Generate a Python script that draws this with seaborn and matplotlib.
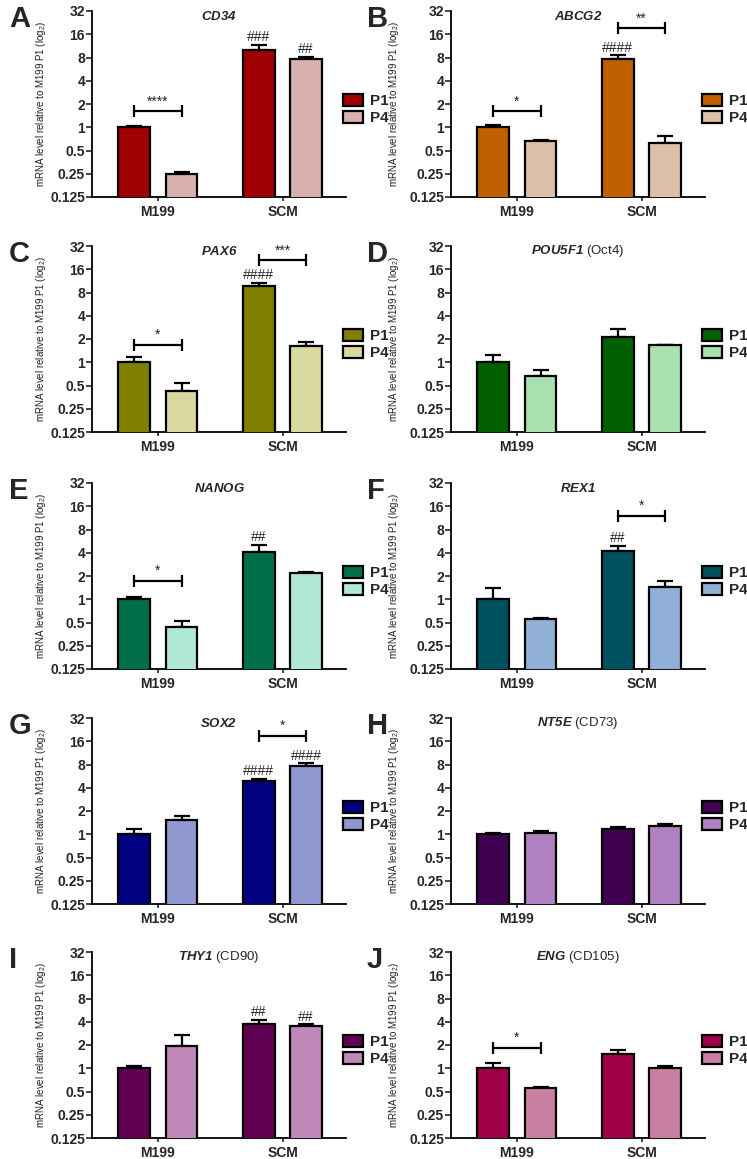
import numpy as np
import pandas as pd
import matplotlib
matplotlib.use("Agg")
import matplotlib.pyplot as plt
from matplotlib.patches import Patch
from matplotlib.ticker import NullLocator
import seaborn as sns

sns.set_style("ticks")
plt.rcParams['font.family'] = ['Liberation Sans', 'DejaVu Sans']
plt.rcParams['mathtext.fontset'] = 'custom'
plt.rcParams['mathtext.rm'] = 'Liberation Sans'
plt.rcParams['mathtext.it'] = 'Liberation Sans:italic'
plt.rcParams['mathtext.bf'] = 'Liberation Sans:bold'
# gene names in titles go through \mathsf so the digits are italic too
plt.rcParams['mathtext.sf'] = 'Liberation Sans:italic:bold'

# panels
letters = ["A", "B", "C", "D", "E", "F", "G", "H", "I", "J"]
genes = ["CD34", "ABCG2", "PAX6", "POU5F1", "NANOG", "REX1", "SOX2", "NT5E", "THY1", "ENG"]
aliases = ["", "", "", "Oct4", "", "", "", "CD73", "CD90", "CD105"]
conditions = ["M199", "SCM"]
passages = ["P1", "P4"]

# means (M199, SCM) and SEM
p1_mean = [[1.0, 9.9], [1.0, 7.6], [1.0, 9.8], [1.0, 2.12], [1.0, 4.07],
           [1.0, 4.2], [1.0, 4.9], [1.0, 1.17], [1.0, 3.77], [1.0, 1.52]]
p1_sem = [[0.03, 1.8], [0.07, 0.9], [0.17, 0.8], [0.23, 0.54], [0.07, 1.0],
          [0.40, 0.67], [0.18, 0.3], [0.03, 0.07], [0.07, 0.43], [0.17, 0.22]]
p4_mean = [[0.25, 7.6], [0.67, 0.63], [0.43, 1.64], [0.66, 1.66], [0.44, 2.2],
           [0.55, 1.44], [1.52, 7.7], [1.05, 1.26], [1.92, 3.55], [0.55, 1.0]]
p4_sem = [[0.012, 0.5], [0.02, 0.13], [0.11, 0.19], [0.14, 0.02], [0.09, 0.06],
          [0.02, 0.29], [0.19, 0.6], [0.04, 0.09], [0.75, 0.15], [0.02, 0.07]]

p1_colors = ["#a00000", "#c06000", "#808000", "#006000", "#00704a",
             "#005060", "#000080", "#400050", "#600050", "#a00048"]
p4_colors = ["#d8b0b0", "#dec0a8", "#d8d8a0", "#a8e0b0", "#b0e8d8",
             "#90b0d8", "#9098d0", "#b080c0", "#c088b8", "#c880a0"]

# P1 vs P4 comparisons: (panel, condition, bracket height, label)
brackets = [(0, 0, 1.61, "****"), (1, 0, 1.61, "*"), (1, 1, 19.2, "**"),
            (2, 0, 1.67, "*"), (2, 1, 20.8, "***"), (4, 0, 1.74, "*"),
            (5, 1, 12.1, "*"), (6, 1, 18.8, "*"), (9, 0, 1.85, "*")]
# SCM vs M199 comparisons: (panel, condition, passage, label)
hashes = [(0, 1, 0, "###"), (0, 1, 1, "##"), (1, 1, 0, "####"), (2, 1, 0, "####"),
          (4, 1, 0, "##"), (5, 1, 0, "##"), (6, 1, 0, "####"), (6, 1, 1, "####"),
          (8, 1, 0, "##"), (8, 1, 1, "##")]

yticks = [0.125, 0.25, 0.5, 1, 2, 4, 8, 16, 32]
ytick_labels = ["0.125", "0.25", "0.5", "1", "2", "4", "8", "16", "32"]

W, H = 747, 1159
fig = plt.figure(figsize=(W / 100, H / 100), dpi=100)


def px_rect(x0, y0, w, h):
    return [x0 / W, 1 - (y0 + h) / H, w / W, h / H]


col_left = [92, 451]
letter_x = [9, 367]
row_top = [11, 246, 483, 718, 952]
ax_w, ax_h = 254, 186
lw = 1.6

for i, gene in enumerate(genes):
    r, c = divmod(i, 2)
    ax = fig.add_axes(px_rect(col_left[c], row_top[r], ax_w, ax_h))
    df = pd.DataFrame({
        "condition": conditions * 2,
        "passage": ["P1", "P1", "P4", "P4"],
        "value": p1_mean[i] + p4_mean[i],
    })
    sns.barplot(data=df, x="condition", y="value", hue="passage",
                palette=[p1_colors[i], p4_colors[i]], width=0.76, gap=0.33,
                edgecolor="black", linewidth=lw, errorbar=None, saturation=1,
                ax=ax, zorder=3)
    ax.set_yscale("log", base=2)
    ax.set_ylim(0.125, 32)
    ax.set_xlim(-0.53, 1.51)
    ax.set_yticks(yticks)
    ax.set_yticklabels(ytick_labels)
    ax.yaxis.set_minor_locator(NullLocator())
    ax.set_xlabel("")
    ax.set_ylabel("mRNA level relative to M199 P1 (log$_2$)", fontsize=7, color="#222222")
    ax.yaxis.set_label_coords(-0.175 if c == 0 else -0.195, 0.5)
    for s in ["top", "right"]:
        ax.spines[s].set_visible(False)
    for s in ["left", "bottom"]:
        ax.spines[s].set_linewidth(1.3)
        ax.spines[s].set_color("black")
    ax.tick_params(axis="y", direction="out", length=4, width=1.2, labelsize=10, pad=1)
    ax.tick_params(axis="x", direction="out", length=3, width=1.2, labelsize=10, pad=3)
    for lbl in ax.get_yticklabels() + ax.get_xticklabels():
        lbl.set_fontweight("bold")

    # error bars (upper only)
    bars = list(ax.containers)
    sems = [p1_sem[i], p4_sem[i]]
    tops = {}
    centers = {}
    for k, cont in enumerate(bars):
        for j, bar in enumerate(cont):
            x = bar.get_x() + bar.get_width() / 2
            y = bar.get_height()
            e = sems[k][j]
            ax.errorbar(x, y, yerr=[[0], [e]], fmt="none", ecolor="black",
                        elinewidth=lw, capsize=5.5, capthick=lw, zorder=2)
            tops[(j, k)] = y + e
            centers[(j, k)] = x

    # title
    title = r"$\mathsf{" + gene + "}$"
    if aliases[i]:
        title += " (" + aliases[i] + ")"
    ax.text(0.5, 0.972, title, transform=ax.transAxes, ha="center", va="center",
            fontsize=9.5)

    # legend
    handles = [Patch(facecolor=p1_colors[i], edgecolor="black", linewidth=lw),
               Patch(facecolor=p4_colors[i], edgecolor="black", linewidth=lw)]
    ax.legend(handles, passages, loc="center left", bbox_to_anchor=(0.99, 0.47),
              frameon=False, prop={"weight": "bold", "size": 11},
              handlelength=1.3, handleheight=0.85, handletextpad=0.45,
              labelspacing=0.2, borderaxespad=0, borderpad=0)

    for (pi, cj, yb, lab) in brackets:
        if pi != i:
            continue
        x1, x2 = centers[(cj, 0)], centers[(cj, 1)]
        ax.plot([x1, x2], [yb, yb], color="black", lw=lw, marker="|",
                markersize=8, mew=lw, zorder=4)
        ax.annotate(lab, ((x1 + x2) / 2, yb), xytext=(0, 2), textcoords="offset points",
                    ha="center", va="bottom", fontsize=10)

    for (pi, cj, pk, lab) in hashes:
        if pi != i:
            continue
        ax.annotate(lab, (centers[(cj, pk)], tops[(cj, pk)]), xytext=(0, 0.5),
                    textcoords="offset points", ha="center", va="bottom", fontsize=10)

    fig.text(letter_x[c] / W, 1 - (row_top[r] - 6) / H, letters[i], fontsize=21,
             fontweight="bold", ha="left", va="top")

fig.savefig("out.png", dpi=100)
